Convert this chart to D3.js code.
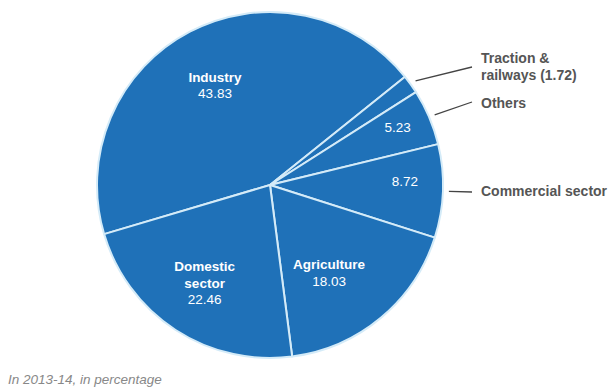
<!DOCTYPE html>
<html>
<head>
<meta charset="utf-8">
<script src="https://cdn.jsdelivr.net/npm/d3@7"></script>
<style>
  body { margin: 0; background: #fff; }
  text { font-family: "Liberation Sans", Arial, sans-serif; }
</style>
</head>
<body>
<div id="chart"></div>
<script>
// ---- data ----
const categories = ["Industry", "Traction & railways", "Others", "Commercial sector", "Agriculture", "Domestic sector"];
const values = [43.83, 1.72, 5.23, 8.72, 18.03, 22.46];
const valueLabels = ["43.83", "1.72", "5.23", "8.72", "18.03", "22.46"];

const svgWidth = 611;
const svgHeight = 392;
const cx = 270, cy = 185, radius = 173;

const svg = d3.select("#chart")
  .append("svg")
  .attr("width", svgWidth)
  .attr("height", svgHeight);

const g = svg.append("g")
  .attr("transform", `translate(${cx},${cy})`);

const startDeg = -106.5;
const pie = d3.pie()
  .sort(null)
  .value(d => d)
  .startAngle(startDeg * Math.PI / 180)
  .endAngle((startDeg + 360) * Math.PI / 180);

const arcs = pie(values);
const arc = d3.arc().innerRadius(0).outerRadius(radius);

g.selectAll("path.slice")
  .data(arcs)
  .enter()
  .append("path")
  .attr("class", "slice")
  .attr("d", arc)
  .attr("fill", "#1f71b8")
  .attr("stroke", "#d4ebf8")
  .attr("stroke-width", 2)
  .attr("stroke-linejoin", "round");

// inside labels: radius fraction + small angle shift (deg)
const inside = [
  { i: 0, r: 0.66, shift: -1.2, lines: ["Industry"] },
  { i: 5, r: 0.68, shift: 0.7, lines: ["Domestic", "sector"] },
  { i: 4, r: 0.61, shift: 5.8, lines: ["Agriculture"] },
  { i: 2, r: 0.81, shift: -1.4, lines: [] },
  { i: 3, r: 0.78, shift: -3.7, lines: [] }
];

const fs = 13.5;
const lineH = 16.5;

inside.forEach(lab => {
  const a = arcs[lab.i];
  const mid = (a.startAngle + a.endAngle) / 2 + lab.shift * Math.PI / 180;
  const x = Math.sin(mid) * radius * lab.r;
  const y = -Math.cos(mid) * radius * lab.r;
  const total = lab.lines.length + 1;
  const t = g.append("text")
    .attr("text-anchor", "middle")
    .attr("fill", "#fff")
    .attr("font-size", fs);
  lab.lines.forEach((ln, k) => {
    t.append("tspan")
      .attr("x", x)
      .attr("y", y - (total - 1) * lineH / 2 + k * lineH + 5)
      .attr("font-weight", "bold")
      .text(ln);
  });
  t.append("tspan")
    .attr("x", x)
    .attr("y", y - (total - 1) * lineH / 2 + lab.lines.length * lineH + 5)
    .text(valueLabels[lab.i]);
});

// outside labels
const outside = [
  { i: 1, lines: ["Traction &", "railways (" + valueLabels[1] + ")"], ty: 63, ly: 67 },
  { i: 2, lines: ["Others"], ty: 108, ly: 102 },
  { i: 3, lines: ["Commercial sector"], ty: 196, ly: 192 }
];

outside.forEach(lab => {
  const a = arcs[lab.i];
  const mid = (a.startAngle + a.endAngle) / 2;
  const r0 = radius + 6;
  const x0 = cx + Math.sin(mid) * r0;
  const y0 = cy - Math.cos(mid) * r0;
  svg.append("line")
    .attr("x1", x0).attr("y1", y0)
    .attr("x2", 472).attr("y2", lab.ly)
    .attr("stroke", "#444")
    .attr("stroke-width", 1.3);
  const t = svg.append("text")
    .attr("fill", "#555")
    .attr("font-size", 14)
    .attr("font-weight", "bold");
  lab.lines.forEach((ln, k) => {
    t.append("tspan")
      .attr("x", 481)
      .attr("y", lab.ty + k * 17)
      .text(ln);
  });
});

// footnote
svg.append("text")
  .attr("x", 8)
  .attr("y", 384)
  .attr("fill", "#888")
  .attr("font-size", 13.5)
  .attr("font-style", "italic")
  .text("In 2013-14, in percentage");
</script>
</body>
</html>
